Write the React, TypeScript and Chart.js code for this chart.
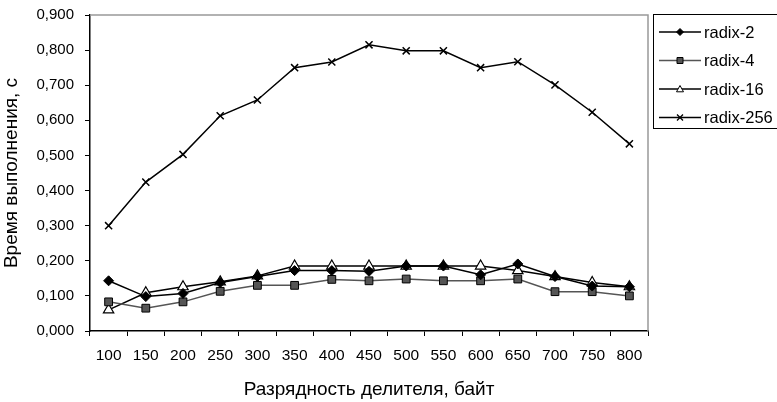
import React, { useEffect, useRef } from "react";
import { Chart, registerables } from "chart.js";

Chart.register(...registerables);

const categories = ["100", "150", "200", "250", "300", "350", "400", "450", "500", "550", "600", "650", "700", "750", "800"];
const radix2 = [0.143, 0.098, 0.107, 0.138, 0.155, 0.172, 0.172, 0.170, 0.185, 0.185, 0.160, 0.191, 0.155, 0.128, 0.126];
const radix4 = [0.083, 0.065, 0.083, 0.113, 0.130, 0.130, 0.147, 0.143, 0.148, 0.143, 0.143, 0.148, 0.112, 0.112, 0.100];
const radix16 = [0.060, 0.109, 0.126, 0.140, 0.157, 0.185, 0.185, 0.185, 0.185, 0.185, 0.185, 0.172, 0.155, 0.138, 0.126];
const radix256 = [0.300, 0.424, 0.503, 0.613, 0.658, 0.750, 0.766, 0.815, 0.798, 0.798, 0.750, 0.767, 0.701, 0.623, 0.533];
const seriesNames = ["radix-2", "radix-4", "radix-16", "radix-256"];
const yTitle = "Время выполнения, с";
const xTitle = "Разрядность делителя, байт";

const FONT = "'Liberation Sans', Arial, sans-serif";

function drawMarker(ctx: CanvasRenderingContext2D, kind: string, x: number, y: number, s: number, fill: string) {
  ctx.save();
  ctx.strokeStyle = "#000";
  ctx.lineWidth = 1;
  ctx.fillStyle = fill;
  ctx.beginPath();
  if (kind === "diamond") {
    ctx.moveTo(x, y - s);
    ctx.lineTo(x + s, y);
    ctx.lineTo(x, y + s);
    ctx.lineTo(x - s, y);
    ctx.closePath();
    ctx.fill();
    ctx.stroke();
  } else if (kind === "square") {
    ctx.rect(x - s, y - s, 2 * s, 2 * s);
    ctx.fill();
    ctx.stroke();
  } else if (kind === "triangle") {
    ctx.moveTo(x, y - s);
    ctx.lineTo(x + s, y + s * 0.8);
    ctx.lineTo(x - s, y + s * 0.8);
    ctx.closePath();
    ctx.fill();
    ctx.stroke();
  } else {
    ctx.lineWidth = 1.3;
    ctx.moveTo(x - s, y - s);
    ctx.lineTo(x + s, y + s);
    ctx.moveTo(x + s, y - s);
    ctx.lineTo(x - s, y + s);
    ctx.stroke();
  }
  ctx.restore();
}

const legendMarkers = [
  { kind: "diamond", fill: "#000", line: "#000", s: 3.5 },
  { kind: "square", fill: "#555", line: "#555", s: 3 },
  { kind: "triangle", fill: "#fff", line: "#000", s: 3.5 },
  { kind: "cross", fill: "#000", line: "#000", s: 3 },
];

const framePlugin = {
  id: "framePlugin",
  afterDraw(chart: any) {
    const { ctx, chartArea } = chart;
    const { left, right, top, bottom } = chartArea;
    ctx.save();
    ctx.strokeStyle = "#999";
    ctx.lineWidth = 1.5;
    ctx.beginPath();
    ctx.moveTo(left, top);
    ctx.lineTo(right, top);
    ctx.lineTo(right, bottom);
    ctx.stroke();

    // legend box
    const bx = right + 5;
    const by = 14;
    ctx.strokeStyle = "#000";
    ctx.lineWidth = 1;
    ctx.strokeRect(bx + 0.5, by + 0.5, 140, 114);
    ctx.font = `16.5px ${FONT}`;
    ctx.textBaseline = "middle";
    ctx.fillStyle = "#000";
    seriesNames.forEach((name, i) => {
      const y = by + 18 + i * 28.5;
      const m = legendMarkers[i];
      ctx.strokeStyle = m.line;
      ctx.lineWidth = 1.5;
      ctx.beginPath();
      ctx.moveTo(bx + 6, y);
      ctx.lineTo(bx + 48, y);
      ctx.stroke();
      drawMarker(ctx, m.kind, bx + 27, y, m.s, m.fill);
      ctx.fillStyle = "#000";
      ctx.fillText(name, bx + 51, y + 1);
    });
    ctx.restore();
  },
};

export default function App() {
  const ref = useRef<HTMLCanvasElement | null>(null);
  useEffect(() => {
    if (!ref.current) return;
    const chart = new Chart(ref.current, {
      type: "line",
      data: {
        labels: categories,
        datasets: [
          {
            label: seriesNames[0],
            data: radix2,
            borderColor: "#000",
            borderWidth: 1.5,
            pointStyle: "rectRot",
            pointRadius: 5,
            pointBackgroundColor: "#000",
            pointBorderColor: "#000",
            pointBorderWidth: 1,
          },
          {
            label: seriesNames[1],
            data: radix4,
            borderColor: "#555",
            borderWidth: 1.5,
            pointStyle: "rect",
            pointRadius: 5.5,
            pointBackgroundColor: "#555",
            pointBorderColor: "#000",
            pointBorderWidth: 1,
          },
          {
            label: seriesNames[2],
            data: radix16,
            borderColor: "#000",
            borderWidth: 1.5,
            pointStyle: "triangle",
            pointRadius: 6,
            pointBackgroundColor: "#fff",
            pointBorderColor: "#000",
            pointBorderWidth: 1.2,
          },
          {
            label: seriesNames[3],
            data: radix256,
            borderColor: "#000",
            borderWidth: 1.5,
            pointStyle: "crossRot",
            pointRadius: 5,
            pointBackgroundColor: "#000",
            pointBorderColor: "#000",
            pointBorderWidth: 1.5,
          },
        ],
      },
      options: {
        animation: false,
        responsive: true,
        maintainAspectRatio: false,
        layout: { padding: { top: 15, right: 129, left: 0, bottom: 0 } },
        plugins: { legend: { display: false }, tooltip: { enabled: false } },
        scales: {
          x: {
            type: "category",
            offset: true,
            afterFit: (s: any) => {
              s.height = 71;
              s.paddingLeft = 0;
              s.paddingRight = 0;
            },
            grid: { offset: true, drawOnChartArea: false, drawTicks: true, tickLength: 5, color: "#000" },
            border: { color: "#000", width: 1.5 },
            ticks: { color: "#000", font: { family: FONT, size: 15.5 }, padding: 10, maxRotation: 0, autoSkip: false },
            title: { display: true, text: xTitle, color: "#000", font: { family: FONT, size: 19 }, padding: { top: 0, bottom: 1 } },
          },
          y: {
            min: 0,
            max: 0.9,
            afterFit: (s: any) => {
              s.width = 90;
              s.paddingTop = 0;
              s.paddingBottom = 0;
            },
            ticks: {
              stepSize: 0.1,
              color: "#000",
              font: { family: FONT, size: 15 },
              padding: 11,
              callback: (v: any) => Number(v).toFixed(3).replace(".", ","),
            },
            grid: { drawOnChartArea: false, drawTicks: true, tickLength: 5, color: "#000" },
            border: { color: "#000", width: 1.5 },
            title: { display: true, text: yTitle, color: "#000", font: { family: FONT, size: 19 }, padding: { top: 0, bottom: 0 } },
          },
        },
      },
      plugins: [framePlugin],
    } as any);
    return () => chart.destroy();
  }, []);
  return (
    <div style={{ position: "fixed", left: 0, top: 0, width: 777, height: 402, background: "#fff" }}>
      <canvas ref={ref} />
    </div>
  );
}
